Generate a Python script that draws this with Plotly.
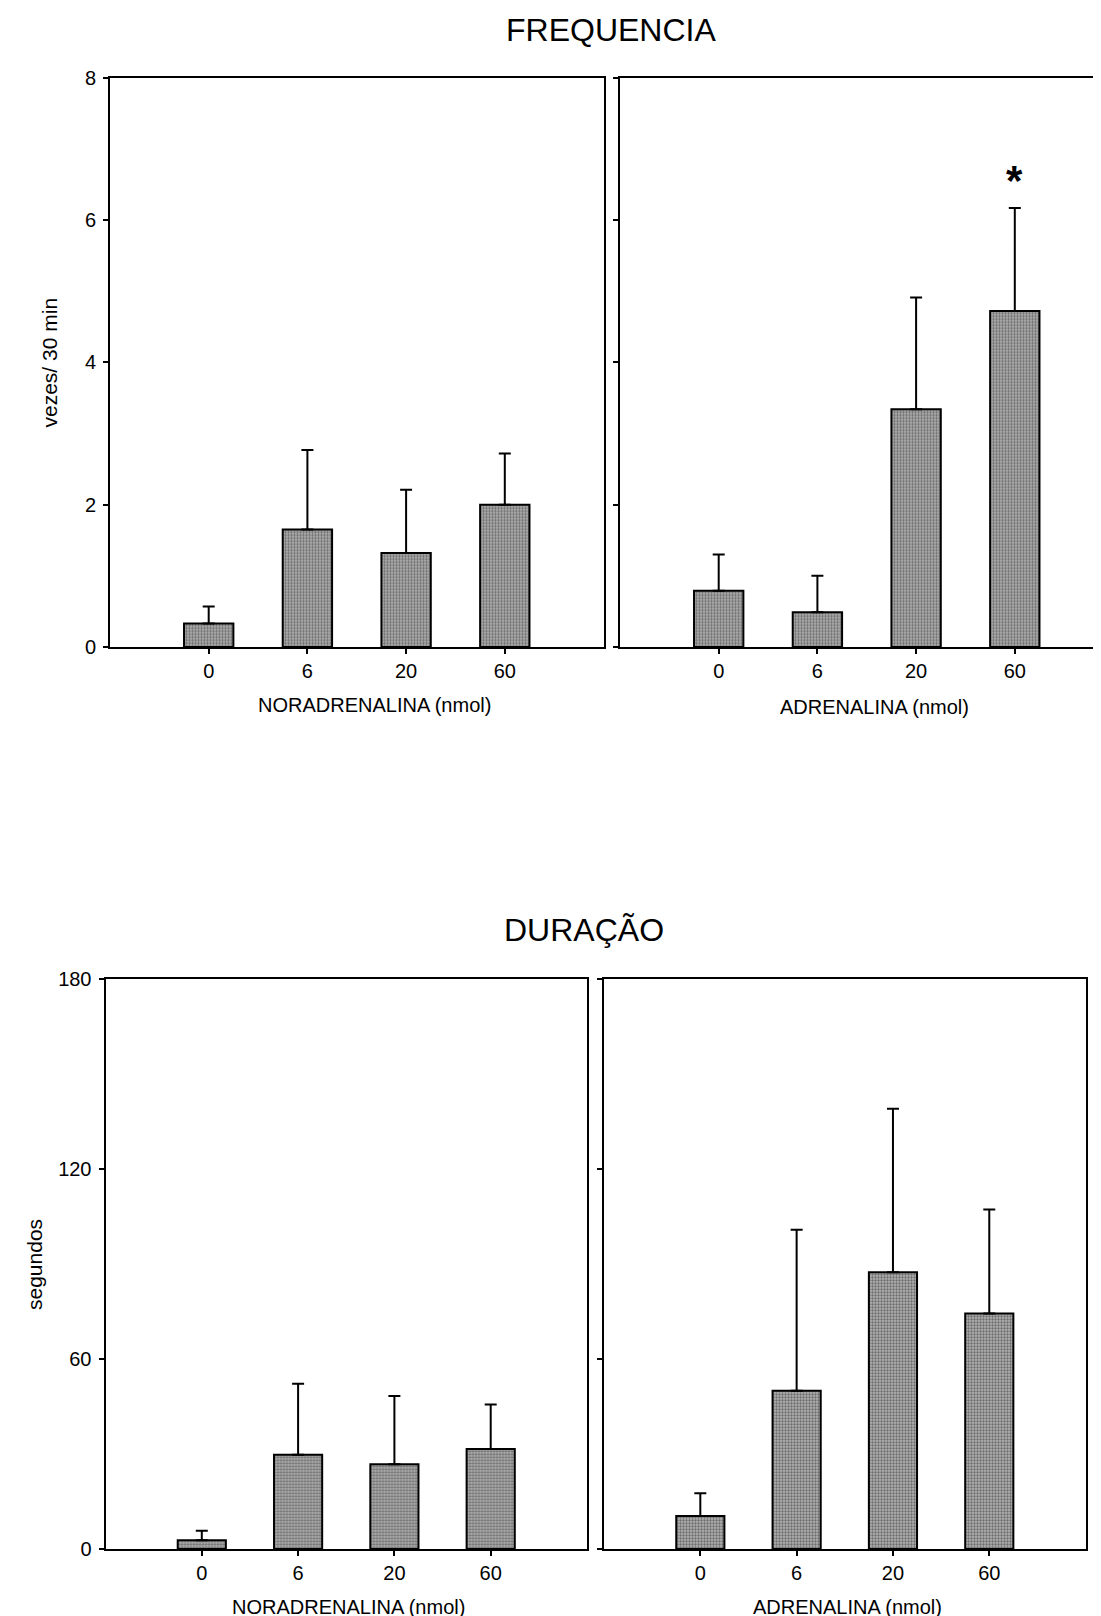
import plotly.graph_objects as go

W, H = 1101, 1616
OFF = 8  # page body margin offset
FONT = "Liberation Sans, Arial, sans-serif"

doses = ["0", "6", "20", "60"]
freq_nor_mean = [0.33, 1.65, 1.32, 2.00]
freq_nor_err = [0.24, 1.12, 0.89, 0.72]
freq_adr_mean = [0.79, 0.49, 3.34, 4.72]
freq_adr_err = [0.51, 0.51, 1.57, 1.45]
dur_nor_mean = [2.8, 29.8, 26.8, 31.6]
dur_nor_err = [3.0, 22.4, 21.5, 14.0]
dur_adr_mean = [10.4, 50.0, 87.4, 74.4]
dur_adr_err = [7.2, 50.8, 51.6, 32.8]
freq_ticks = [0, 2, 4, 6, 8]
dur_ticks = [0, 60, 120, 180]
signif_dose = "60"
signif_y = 6.55


def px(x):
    return (x - OFF) / W


def py(y):
    return 1 - (y - OFF) / H


def bar(means, errs, xa, ya):
    return go.Bar(
        x=doses, y=means, xaxis=xa, yaxis=ya, width=0.5,
        marker=dict(color="#8c8c8c",
                    line=dict(color="black", width=2),
                    pattern=dict(shape=".", size=3, solidity=0.47,
                                 fgcolor="#2a2a2a", bgcolor="#b0b0b0")),
        error_y=dict(type="data", array=errs, arrayminus=[0] * len(errs),
                     symmetric=False, color="black", thickness=2, width=6),
        showlegend=False, hoverinfo="skip",
    )


fig = go.Figure()
fig.add_trace(bar(freq_nor_mean, freq_nor_err, "x", "y"))
fig.add_trace(bar(freq_adr_mean, freq_adr_err, "x2", "y2"))
fig.add_trace(bar(dur_nor_mean, dur_nor_err, "x3", "y3"))
fig.add_trace(bar(dur_adr_mean, dur_adr_err, "x4", "y4"))

ax_common = dict(showline=True, linecolor="black", linewidth=2, showgrid=False,
                 zeroline=False, ticks="outside", ticklen=5, tickwidth=1.5,
                 automargin=False, tickcolor="black",
                 tickfont=dict(family=FONT, size=20, color="black"))
y_common = dict(ticklabelstandoff=3, **ax_common)

# right-top panel runs past the page edge: keep the same units per pixel
unit_top = (603.5 - 110) / 5
x2_right = -1 + (W + OFF - 620) / unit_top

fig.update_layout(
    width=W, height=H, margin=dict(l=0, r=0, t=0, b=0, pad=0, autoexpand=False),
    paper_bgcolor="white", plot_bgcolor="white", showlegend=False,
    font=dict(family=FONT, color="black"),
    xaxis=dict(domain=[px(110), px(603.5)], type="category", range=[-1, 4],
               mirror=True, anchor="y", **ax_common),
    yaxis=dict(domain=[py(647), py(77.7)], range=[0, 8], tickvals=freq_ticks,
               mirror=True, anchor="x", **y_common),
    xaxis2=dict(domain=[px(620), 1.0], type="category", range=[-1, x2_right],
                mirror=True, anchor="y2", **ax_common),
    yaxis2=dict(domain=[py(647), py(77.7)], range=[0, 8], tickvals=freq_ticks,
                showticklabels=False, mirror=False, anchor="x2", **y_common),
    xaxis3=dict(domain=[px(105.5), px(587)], type="category", range=[-1, 4],
                mirror=True, anchor="y3", **ax_common),
    yaxis3=dict(domain=[py(1549), py(979)], range=[0, 180], tickvals=dur_ticks,
                mirror=True, anchor="x3", **y_common),
    xaxis4=dict(domain=[px(604), px(1085.6)], type="category", range=[-1, 4],
                mirror=True, anchor="y4", **ax_common),
    yaxis4=dict(domain=[py(1549), py(979)], range=[0, 180], tickvals=dur_ticks,
                showticklabels=False, mirror=True, anchor="x4", **y_common),
)


def label(text, x, y, size=20, angle=0):
    fig.add_annotation(text=text, x=px(x), y=py(y), xref="paper", yref="paper",
                       showarrow=False, textangle=angle, xanchor="center", yanchor="middle",
                       font=dict(family=FONT, size=size, color="black"))


label("FREQUENCIA", 611, 30, size=32)
label("DURAÇÃO", 584, 930, size=32)
label("vezes/ 30 min", 48.5, 363, size=21, angle=-90)
label("segundos", 34, 1264, size=21, angle=-90)
label("NORADRENALINA (nmol)", 374, 705)
label("ADRENALINA (nmol)", 874, 707)
label("NORADRENALINA (nmol)", 348, 1607)
label("ADRENALINA (nmol)", 847, 1607)

fig.add_annotation(text="<b>*</b>", x=doses.index(signif_dose), y=signif_y,
                   xref="x2", yref="y2", showarrow=False, yanchor="middle",
                   font=dict(family=FONT, size=42, color="black"))

fig.write_html("out.html")
